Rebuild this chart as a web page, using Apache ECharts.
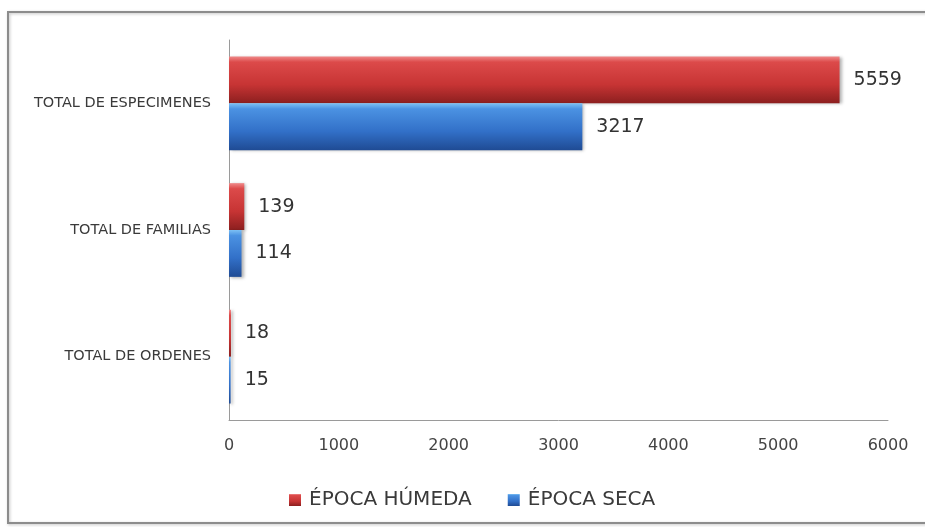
<!DOCTYPE html>
<html>
<head>
<meta charset="utf-8">
<script src="https://cdn.jsdelivr.net/npm/echarts@6/dist/echarts.min.js"></script>
<style>
  html, body { margin: 0; padding: 0; background: #ffffff; }
  #chart { width: 925px; height: 527px; }
</style>
</head>
<body>
<div id="chart"></div>
<script>
// Categories from top to bottom
const categories = ['TOTAL DE ESPECIMENES', 'TOTAL DE FAMILIAS', 'TOTAL DE ORDENES'];
const seriesNames = ['ÉPOCA HÚMEDA', 'ÉPOCA SECA'];
const humedaValues = [5559, 139, 18];
const secaValues = [3217, 114, 15];
const xTicks = [0, 1000, 2000, 3000, 4000, 5000, 6000];

const FONT = '"DejaVu Sans", sans-serif';

function shade(stops) {
  return new echarts.graphic.LinearGradient(0, 0, 0, 1,
    stops.map(s => ({ offset: s[0], color: s[1] })));
}
const redFill = shade([[0, '#f08a8a'], [0.12, '#dc4a4a'], [0.6, '#c73434'], [1, '#8c1f1f']]);
const blueFill = shade([[0, '#7cc0f4'], [0.12, '#4b92e2'], [0.6, '#3270c8'], [1, '#1f4b94']]);

const chart = echarts.init(document.getElementById('chart'));
chart.setOption({
  animation: false,
  backgroundColor: '#ffffff',
  graphic: [{
    type: 'rect',
    shape: { x: 8, y: 12, width: 940, height: 511 },
    style: { fill: 'none', stroke: '#8c8c8c', lineWidth: 2,
      shadowColor: 'rgba(0,0,0,0.25)', shadowBlur: 3, shadowOffsetX: 1, shadowOffsetY: 1 },
    silent: true
  }],
  legend: {
    data: seriesNames,
    top: 485,
    left: 284,
    itemWidth: 12,
    itemHeight: 12,
    itemGap: 36,
    icon: 'rect',
    textStyle: { fontFamily: FONT, fontSize: 20, color: '#3a3a3a', padding: [0, 0, 0, 3] }
  },
  grid: { left: 229, right: 37, top: 40, bottom: 107, containLabel: false },
  xAxis: {
    type: 'value',
    min: xTicks[0],
    max: xTicks[xTicks.length - 1],
    interval: 1000,
    axisLine: { show: true, lineStyle: { color: '#9a9a9a', width: 1 } },
    axisTick: { show: false },
    splitLine: { show: false },
    axisLabel: { margin: 18, fontFamily: FONT, fontSize: 16, color: '#444',
      formatter: v => String(v) }
  },
  yAxis: {
    type: 'category',
    data: categories,
    inverse: true,
    axisLine: { show: true, lineStyle: { color: '#9a9a9a', width: 1 } },
    axisTick: { show: false },
    axisLabel: { margin: 18, fontFamily: FONT, fontSize: 14.5, color: '#3a3a3a' }
  },
  series: [
    {
      name: seriesNames[0],
      type: 'bar',
      data: humedaValues,
      barGap: '0%',
      barCategoryGap: '26%',
      itemStyle: { color: redFill, shadowColor: 'rgba(0,0,0,0.3)', shadowBlur: 3, shadowOffsetX: 2, shadowOffsetY: 1 },
      label: { show: true, position: 'right', distance: 14, fontFamily: FONT, fontSize: 19, color: '#333' }
    },
    {
      name: seriesNames[1],
      type: 'bar',
      data: secaValues,
      barGap: '0%',
      barCategoryGap: '26%',
      itemStyle: { color: blueFill, shadowColor: 'rgba(0,0,0,0.3)', shadowBlur: 3, shadowOffsetX: 2, shadowOffsetY: 1 },
      label: { show: true, position: 'right', distance: 14, fontFamily: FONT, fontSize: 19, color: '#333' }
    }
  ]
});
</script>
</body>
</html>
